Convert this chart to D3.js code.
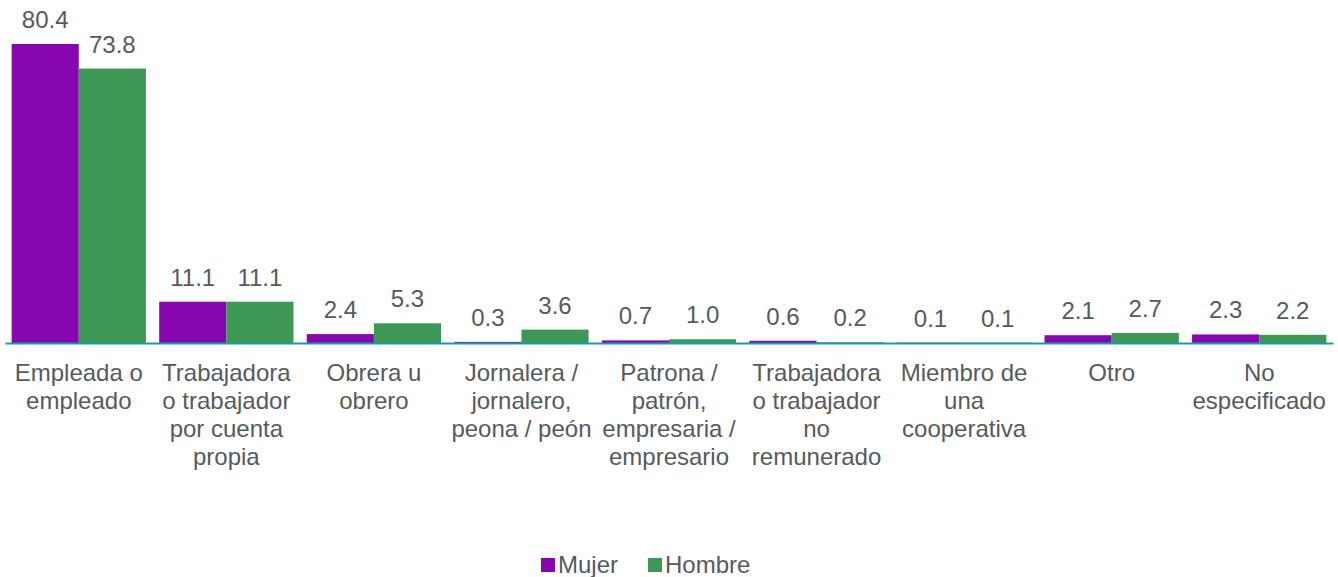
<!DOCTYPE html>
<html>
<head>
<meta charset="utf-8">
<script src="https://cdn.jsdelivr.net/npm/d3@7"></script>
<style>
  body { margin: 0; background: #fff; }
  text { font-family: "Liberation Sans", Arial, sans-serif; fill: #555a60; }
</style>
</head>
<body>
<div id="plot"></div>
<script>
// data
const categories = [
  "Empleada o|empleado",
  "Trabajadora|o trabajador|por cuenta|propia",
  "Obrera u|obrero",
  "Jornalera /|jornalero,|peona / peón",
  "Patrona /|patrón,|empresaria /|empresario",
  "Trabajadora|o trabajador|no|remunerado",
  "Miembro de|una|cooperativa",
  "Otro",
  "No|especificado"
];
const seriesNames = ["Mujer", "Hombre"];
const mujer = [80.4, 11.1, 2.4, 0.3, 0.7, 0.6, 0.1, 2.1, 2.3];
const hombre = [73.8, 11.1, 5.3, 3.6, 1.0, 0.2, 0.1, 2.7, 2.2];
const colors = ["#8606b0", "#3d9856"];

const w = 1338, h = 577;
const baseY = 343;

var svg = d3.select("div#plot")
  .append("svg")
    .attr("width", w)
    .attr("height", h);

var x0 = d3.scaleBand()
  .domain(categories)
  .range([5, 1333])
  .paddingInner(0.09)
  .paddingOuter(0.045);

var x1 = d3.scaleBand()
  .domain(seriesNames)
  .range([0, x0.bandwidth()]);

var y = d3.scaleLinear()
  .domain([0, 80.4])
  .range([baseY, 44]);

var rows = categories.map((c, i) => ({cat: c, vals: [
  {s: "Mujer", v: mujer[i]},
  {s: "Hombre", v: hombre[i]}
]}));

var groups = svg.append("g")
  .selectAll("g")
  .data(rows)
  .enter().append("g")
    .attr("transform", d => `translate(${x0(d.cat)},0)`);

groups.selectAll("rect")
  .data(d => d.vals)
  .enter().append("rect")
    .attr("x", d => x1(d.s))
    .attr("y", d => y(d.v))
    .attr("width", x1.bandwidth())
    .attr("height", d => baseY - y(d.v))
    .attr("fill", (d, i) => colors[i]);

groups.selectAll("text.val")
  .data(d => d.vals)
  .enter().append("text")
    .attr("class", "val")
    .attr("x", d => x1(d.s) + x1.bandwidth() / 2)
    .attr("y", d => y(d.v) - 16)
    .attr("text-anchor", "middle")
    .style("font-size", "24px")
    .text(d => d.v.toFixed(1));

// x axis
var xAxis = svg.append("g")
  .attr("transform", `translate(0,${baseY})`)
  .call(d3.axisBottom(x0).tickSize(0).tickSizeOuter(0).tickFormat(""));

xAxis.select(".domain")
  .attr("stroke", "#1c9aaa")
  .attr("stroke-width", 2);

xAxis.selectAll(".tick text").remove();

xAxis.selectAll(".tick")
  .append("text")
    .attr("text-anchor", "middle")
    .style("font-size", "24px")
    .selectAll("tspan")
    .data(d => d.split("|"))
    .enter().append("tspan")
      .attr("x", 0)
      .attr("y", (d, i) => 38 + i * 28)
      .text(d => d);

// legend
var legend = svg.append("g")
  .attr("transform", "translate(541,565)");

var lx = [0, 107];
seriesNames.forEach((s, i) => {
  legend.append("rect")
    .attr("x", lx[i])
    .attr("y", -7)
    .attr("width", 14)
    .attr("height", 14)
    .attr("fill", colors[i]);
  legend.append("text")
    .attr("x", lx[i] + 17)
    .attr("y", 8)
    .style("font-size", "24px")
    .text(s);
});
</script>
</body>
</html>
